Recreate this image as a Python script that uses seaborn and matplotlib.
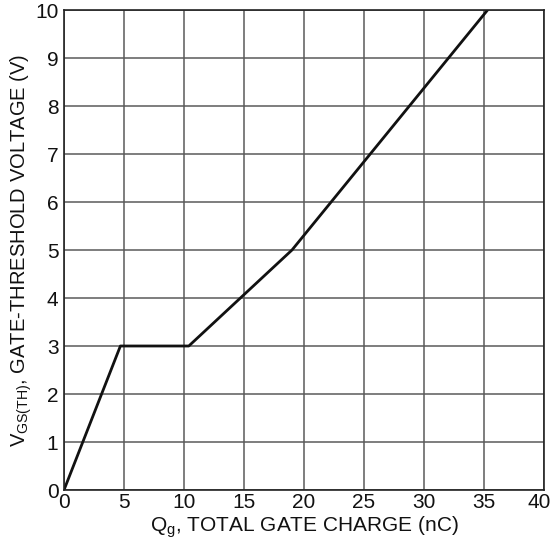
import matplotlib
matplotlib.use("Agg")
import matplotlib.pyplot as plt
import matplotlib.transforms as mtransforms
import seaborn as sns
import pandas as pd

qg = [0.0, 4.7, 10.4, 19.0, 35.3]
vgs = [0.0, 3.0, 3.0, 5.0, 10.0]
xticks = [0, 5, 10, 15, 20, 25, 30, 35, 40]
yticks = [0, 1, 2, 3, 4, 5, 6, 7, 8, 9, 10]

sns.set_theme(style="white")
plt.rcParams['font.family'] = ['Liberation Sans', 'DejaVu Sans']
plt.rcParams['mathtext.fontset'] = 'custom'
plt.rcParams['mathtext.rm'] = 'Liberation Sans'
plt.rcParams['mathtext.it'] = 'Liberation Sans'

fig = plt.figure(figsize=(5.52, 5.47), dpi=100)
ax = fig.add_axes([64/552, 57/547, 480/552, 480/547])

df = pd.DataFrame({"qg": qg, "vgs": vgs})
sns.lineplot(data=df, x="qg", y="vgs", sort=False, color="#111111", linewidth=2.0, ax=ax)

ax.set_xlim(0, 40)
ax.set_ylim(0, 10)
ax.set_xticks(xticks)
ax.set_yticks(yticks)
ax.set_xticklabels([str(t) for t in xticks], fontsize=15, color="#111111")
ax.set_yticklabels([str(t) for t in yticks], fontsize=15, color="#111111")
ax.tick_params(axis="x", length=0, pad=2)
ax.tick_params(axis="y", length=0, pad=4)
last = ax.get_xticklabels()[-1]
last.set_ha("right")
last.set_transform(last.get_transform() + mtransforms.ScaledTranslation(7/100, 0, fig.dpi_scale_trans))
ax.grid(True, color="#5a5a5a", linewidth=1.1)
ax.set_axisbelow(True)
for s in ax.spines.values():
    s.set_color("#222222")
    s.set_linewidth(1.2)

ax.set_xlabel(r"Q$_\mathregular{g}$, TOTAL GATE CHARGE (nC)", fontsize=15, color="#111111", labelpad=2)
ax.set_ylabel(r"V$_\mathregular{GS(TH)}$, GATE-THRESHOLD VOLTAGE (V)", fontsize=14.5, color="#111111", labelpad=1)

fig.savefig("out.png", dpi=100)
